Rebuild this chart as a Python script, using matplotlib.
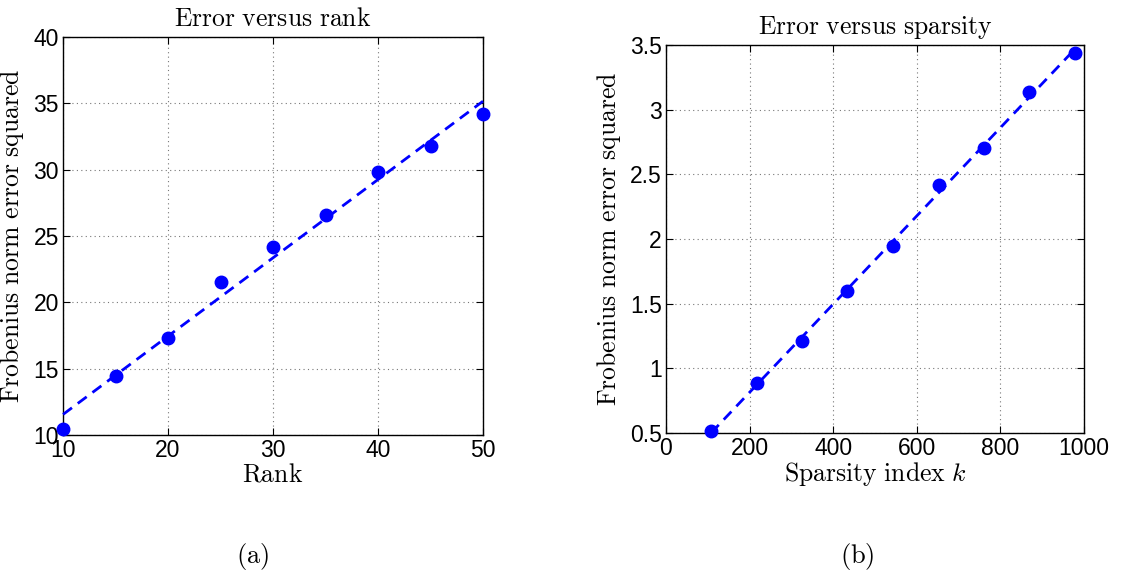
import numpy as np
import matplotlib
matplotlib.use('Agg')
import matplotlib.pyplot as plt

plt.rcParams['mathtext.fontset'] = 'cm'
plt.rcParams['font.family'] = 'Liberation Sans'

# data
rank = [10, 15, 20, 25, 30, 35, 40, 45, 50]
rank_err = [10.43, 14.47, 17.29, 21.5, 24.15, 26.58, 29.8, 31.8, 34.17]

sparsity = [108, 217, 326, 434, 543, 652, 760, 869, 978]
sparsity_err = [0.515, 0.884, 1.214, 1.60, 1.948, 2.415, 2.706, 3.137, 3.436]

fig = plt.figure(figsize=(11.28, 5.75), dpi=100)
ax1 = fig.add_axes([0.0559, 0.2435, 0.3723, 0.6922])
ax2 = fig.add_axes([0.5904, 0.2470, 0.3706, 0.6748])

def draw(ax, x, y, xlim, ylim, xticks, yticks, ylabels, title, xlabel):
    x = np.asarray(x, float)
    y = np.asarray(y, float)
    # least squares fit, dashed
    p = np.polyfit(x, y, 1)
    ax.plot(x, np.polyval(p, x), '--', color='#0000ff', lw=2.0, dashes=(4, 2.6), clip_on=False, zorder=3)
    ax.plot(x, y, 'o', color='#0000ff', ms=9, clip_on=False, zorder=4)
    ax.set_xlim(xlim)
    ax.set_ylim(ylim)
    ax.set_xticks(xticks)
    ax.set_yticks(yticks)
    ax.set_yticklabels(ylabels)
    ax.grid(True, ls=(0, (1, 3)), color='#777777', lw=0.8)
    ax.tick_params(direction='in', length=5, width=0.8, labelsize=16.5, top=True, right=True, pad=3)
    for s in ax.spines.values():
        s.set_linewidth(1.0)
        s.set_color('black')
    ax.set_title(title, fontsize=18.5, pad=8)
    ax.set_xlabel(xlabel, fontsize=18.5, labelpad=0)
    ax.set_ylabel(r'$\mathrm{Frobenius\ norm\ error\ squared}$', fontsize=18.5, labelpad=5)

draw(ax1, rank, rank_err, (10, 50), (10, 40), [10, 20, 30, 40, 50],
     [10, 15, 20, 25, 30, 35, 40], ['10', '15', '20', '25', '30', '35', '40'],
     r'$\mathrm{Error\ versus\ rank}$', r'$\mathrm{Rank}$')
draw(ax2, sparsity, sparsity_err, (0, 1000), (0.5, 3.5), [0, 200, 400, 600, 800, 1000],
     [0.5, 1, 1.5, 2, 2.5, 3, 3.5], ['0.5', '1', '1.5', '2', '2.5', '3', '3.5'],
     r'$\mathrm{Error\ versus\ sparsity}$', r'$\mathrm{Sparsity\ index}\ k$')

fig.text(0.224, 0.032, r'$\mathrm{(a)}$', fontsize=19, ha='center', va='center')
fig.text(0.760, 0.032, r'$\mathrm{(b)}$', fontsize=19, ha='center', va='center')

plt.savefig('out.png', dpi=100)
